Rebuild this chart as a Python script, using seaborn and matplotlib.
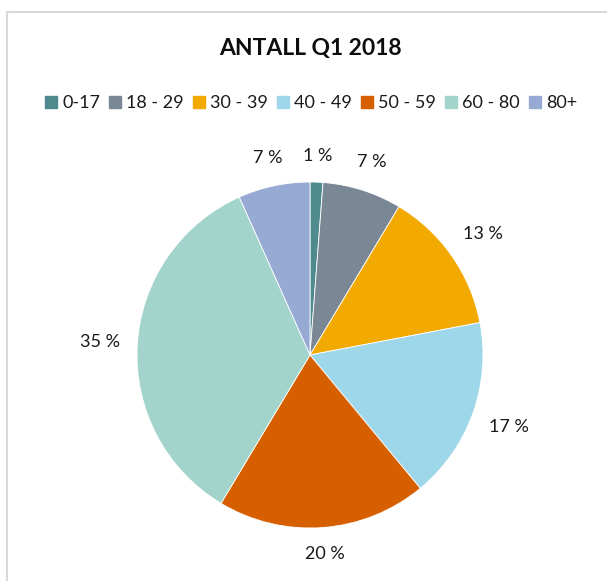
import matplotlib
matplotlib.use("Agg")
import matplotlib.pyplot as plt
import seaborn as sns
import numpy as np
from matplotlib.patches import Rectangle
from matplotlib.lines import Line2D

sns.set_theme(style="white")
plt.rcParams['font.family'] = ['Lato', 'DejaVu Sans']

categories = ["0-17", "18 - 29", "30 - 39", "40 - 49", "50 - 59", "60 - 80", "80+"]
values = [1.2, 7.4, 13.4, 17.0, 19.6, 34.7, 6.7]
colors = ["#4e8a8e", "#7a8896", "#f2aa00", "#9ed6ea", "#d65f00", "#a3d4cb", "#97aad4"]
title = "ANTALL Q1 2018"

W, H = 607, 581
fig = plt.figure(figsize=(W / 100, H / 100), dpi=100)

# outer frame (light grey)
fig.patches.append(Rectangle((7 / W, -0.05), 1.1, (H - 12) / H + 0.05, transform=fig.transFigure,
                             fill=False, edgecolor="#d9d9d9", linewidth=1.5))

cx, cy, r = 310, 355, 173
ax = fig.add_axes([(cx - r) / W, (H - cy - r) / H, 2 * r / W, 2 * r / H])
wedges, _ = ax.pie(values, colors=colors, startangle=90, counterclock=False,
                   wedgeprops=dict(edgecolor="white", linewidth=0.6))
# outside-end labels, placed like the original (box just outside the rim)
for w, v in zip(wedges, values):
    mid = np.deg2rad((w.theta1 + w.theta2) / 2)
    dx, dy = np.cos(mid), np.sin(mid)
    label = f"{v:.0f} %"
    tw, th = 10 * len(label), 16
    d = 1.10 + (abs(dx) * tw / 2 + abs(dy) * th / 2) / r
    ax.text(d * dx, d * dy, label, ha="center", va="center", fontsize=13,
            color="#1a1a1a")
ax.set_xlim(-1, 1)
ax.set_ylim(-1, 1)
ax.set_aspect("equal")
ax.axis("off")

fig.text(310 / W, 1 - 48 / H, title, ha="center", va="center", fontsize=16.5,
         fontweight="bold", color="#0d0d0d")

handles = [Line2D([0], [0], marker="s", linestyle="none", markersize=9,
                  markerfacecolor=c, markeredgecolor=c) for c in colors]
fig.legend(handles, categories, loc="center", bbox_to_anchor=(311 / W, 1 - 103 / H),
           ncol=len(categories), frameon=False, fontsize=13, handlelength=0.7,
           handletextpad=0.25, columnspacing=0.5, labelcolor="#1a1a1a")

fig.savefig("out.png", dpi=100, facecolor="white")
